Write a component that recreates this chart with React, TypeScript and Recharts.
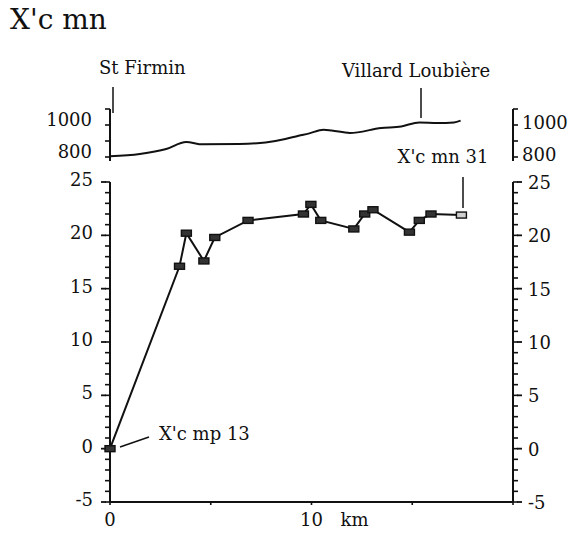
import React from 'react';
import { LineChart, Line, XAxis, YAxis } from 'recharts';

const FONT = '"DejaVu Serif", "Liberation Serif", serif';
const INK = '#111';

// measured series (km along the valley, value)
const distanceKm = [0, 3.45, 3.79, 4.66, 5.2, 6.85, 9.6, 9.97, 10.46, 12.1, 12.64, 13.05, 14.86, 15.35, 15.93, 17.44];
const values = [0, 17.1, 20.2, 17.6, 19.8, 21.4, 22.0, 22.9, 21.4, 20.6, 22.0, 22.4, 20.3, 21.4, 22.0, 21.9];

// altitude profile above the plot
const profileKm = [0, 1.48, 2.79, 3.78, 4.6, 6.4, 7.72, 8.7, 9.36, 9.85, 10.6, 11.0, 11.9, 13.46, 14.45, 15.35, 16.26, 17.07, 17.4];
const altitude = [805, 819, 850, 894, 879, 881, 891, 912, 933, 946, 971, 966, 950, 981, 991, 1016, 1012, 1016, 1027];

const valueTicks = [-5, -4, -3, -2, -1, 0, 1, 2, 3, 4, 5, 6, 7, 8, 9, 10, 11, 12, 13, 14, 15, 16, 17, 18, 19, 20, 21, 22, 23, 24, 25];
const altTicks = [800, 900, 1000, 1100];
const altLabels = [800, 1000];
const kmTicks = [0, 5, 10, 15, 20];
const kmLabels = [0, 10];

const mainData = distanceKm.map((km, i) => ({ km, v: values[i] }));
const profileData = profileKm.map((km, i) => ({ km, alt: altitude[i] }));

const textStyle = { fontFamily: FONT, fontSize: 18, fill: INK };

// tickSize draws the minor ticks; majors get an extra line here
const valueTick = (side: 'left' | 'right') => (props: any) => {
  const { x, y, payload } = props;
  const major = payload.value % 5 === 0;
  const dir = side === 'left' ? -1 : 1;
  return (
    <g>
      {major && <line x1={x - dir} x2={x + dir * 4} y1={y} y2={y} stroke={INK} strokeWidth={1.8} />}
      {major && (
        <text
          x={x + dir * (side === 'left' ? 12 : 10)}
          y={y}
          dy={side === 'left' ? 4 : 7}
          textAnchor={side === 'left' ? 'end' : 'start'}
          style={textStyle}
        >
          {payload.value}
        </text>
      )}
    </g>
  );
};

const altTick = (side: 'left' | 'right') => (props: any) => {
  const { x, y, payload } = props;
  const dir = side === 'left' ? -1 : 1;
  if (!altLabels.includes(payload.value)) return <g />;
  return (
    <text
      x={x + dir * (side === 'left' ? 13 : 4)}
      y={y}
      dy={side === 'left' ? 1 : 4}
      textAnchor={side === 'left' ? 'end' : 'start'}
      style={textStyle}
    >
      {payload.value}
    </text>
  );
};

const kmTick = (props: any) => {
  const { x, y, payload } = props;
  return (
    <g>
      {kmLabels.includes(payload.value) && (
        <text x={x} y={y} dy={21} textAnchor="middle" style={textStyle}>
          {payload.value}
        </text>
      )}
      {payload.value === 10 && (
        <text x={x + 29} y={y} dy={21} textAnchor="start" style={textStyle}>
          km
        </text>
      )}
    </g>
  );
};

const Marker = (props: any) => {
  const { cx, cy, index } = props;
  const last = index === mainData.length - 1;
  return (
    <rect
      key={index}
      x={cx - 5}
      y={cy - 3}
      width={10}
      height={6}
      fill={last ? '#cfcfcf' : '#333'}
      stroke={INK}
      strokeWidth={1.4}
    />
  );
};

const axisLine = { stroke: INK, strokeWidth: 2 };
const tickLine = { stroke: INK, strokeWidth: 1.6 };

export default function App() {
  return (
    <div style={{ position: 'absolute', left: 0, top: 0, width: 576, height: 535, background: '#fff' }}>
      <div style={{ position: 'absolute', left: 10, top: 3, fontFamily: FONT, fontSize: 28, color: INK }}>
        X'c mn
      </div>

      {/* altitude profile */}
      <div style={{ position: 'absolute', left: 0, top: 0 }}>
        <LineChart width={576} height={170} data={profileData} margin={{ top: 109, right: 3, bottom: 9, left: 50 }}>
          <XAxis type="number" dataKey="km" domain={[0, 20]} hide />
          <YAxis
            yAxisId="l"
            orientation="left"
            width={60}
            domain={[775, 1100]}
            ticks={altTicks}
            interval={0}
            tickSize={5}
            tickMargin={0}
            tickLine={tickLine}
            axisLine={axisLine}
            tick={altTick('left')}
          />
          <YAxis
            yAxisId="r"
            orientation="right"
            width={60}
            domain={[775, 1100]}
            ticks={altTicks}
            interval={0}
            tickSize={5}
            tickMargin={0}
            tickLine={tickLine}
            axisLine={axisLine}
            tick={altTick('right')}
          />
          <Line
            yAxisId="l"
            dataKey="alt"
            type="monotone"
            stroke={INK}
            strokeWidth={2}
            dot={false}
            isAnimationActive={false}
          />
          <Line yAxisId="r" dataKey="alt" stroke="none" dot={false} legendType="none" isAnimationActive={false} />
        </LineChart>
      </div>

      {/* main plot */}
      <div style={{ position: 'absolute', left: 0, top: 0 }}>
        <LineChart width={576} height={535} data={mainData} margin={{ top: 182, right: 3, bottom: 3, left: 50 }}>
          <XAxis
            type="number"
            dataKey="km"
            domain={[0, 20]}
            ticks={kmTicks}
            interval={0}
            height={30}
            tickSize={3}
            tickMargin={0}
            tickLine={tickLine}
            axisLine={axisLine}
            tick={kmTick}
          />
          <YAxis
            yAxisId="l"
            orientation="left"
            width={60}
            domain={[-5, 25]}
            ticks={valueTicks}
            interval={0}
            tickSize={5}
            tickMargin={0}
            tickLine={tickLine}
            axisLine={axisLine}
            tick={valueTick('left')}
          />
          <YAxis
            yAxisId="r"
            orientation="right"
            width={60}
            domain={[-5, 25]}
            ticks={valueTicks}
            interval={0}
            tickSize={5}
            tickMargin={0}
            tickLine={tickLine}
            axisLine={axisLine}
            tick={valueTick('right')}
          />
          <Line
            yAxisId="l"
            dataKey="v"
            type="linear"
            stroke={INK}
            strokeWidth={2}
            dot={Marker}
            isAnimationActive={false}
          />
          <Line yAxisId="r" dataKey="v" stroke="none" dot={false} legendType="none" isAnimationActive={false} />
        </LineChart>
      </div>

      {/* place names and sample labels */}
      <svg width={576} height={535} style={{ position: 'absolute', left: 0, top: 0, pointerEvents: 'none' }}>
        <text x={99} y={74} style={textStyle}>St Firmin</text>
        <line x1={113} x2={113} y1={87} y2={113} stroke={INK} strokeWidth={1.5} />
        <text x={416} y={77} textAnchor="middle" style={textStyle}>Villard Loubière</text>
        <line x1={421} x2={421} y1={88} y2={118} stroke={INK} strokeWidth={1.5} />
        <text x={443} y={163} textAnchor="middle" style={textStyle}>X'c mn 31</text>
        <line x1={463} x2={463} y1={177} y2={208} stroke={INK} strokeWidth={1.5} />
        <text x={159} y={440} style={textStyle}>X'c mp 13</text>
        <line x1={120} x2={149} y1={447} y2={437} stroke={INK} strokeWidth={1.5} />
      </svg>
    </div>
  );
}
